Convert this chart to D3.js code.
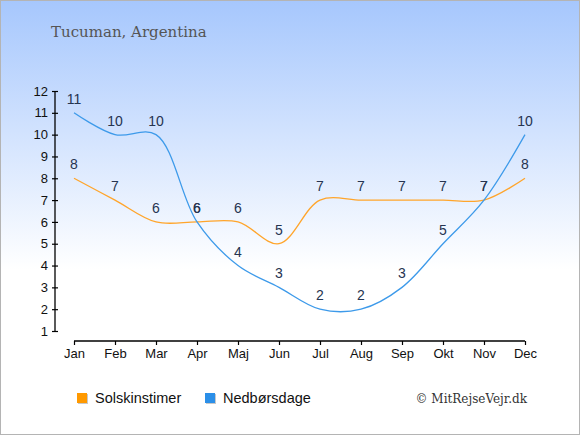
<!DOCTYPE html>
<html>
<head>
<meta charset="utf-8">
<script src="https://cdn.jsdelivr.net/npm/d3@7"></script>
<style>
  html, body { margin: 0; padding: 0; }
  svg { display: block; }
</style>
</head>
<body>
<div id="chart"></div>
<script>
// Tucuman monthly climate: sunshine hours and rain days
const months = ["Jan", "Feb", "Mar", "Apr", "Maj", "Jun", "Jul", "Aug", "Sep", "Okt", "Nov", "Dec"];
const sunHours = [8, 7, 6, 6, 6, 5, 7, 7, 7, 7, 7, 8];
const rainDays = [11, 10, 10, 6, 4, 3, 2, 2, 3, 5, 7, 10];
const yTicks = [1, 2, 3, 4, 5, 6, 7, 8, 9, 10, 11, 12];

const W = 580, H = 435;
const svg = d3.select("#chart").append("svg").attr("width", W).attr("height", H);

// background gradient
const grad = svg.append("defs").append("linearGradient")
  .attr("id", "bg").attr("x1", 0).attr("x2", 0).attr("y1", 0).attr("y2", 1);
grad.append("stop").attr("offset", "0%").attr("stop-color", "#a6c7fd");
grad.append("stop").attr("offset", "62%").attr("stop-color", "#ffffff");
grad.append("stop").attr("offset", "100%").attr("stop-color", "#ffffff");
svg.append("rect").attr("x", 0.5).attr("y", 0.5).attr("width", W - 1).attr("height", H - 1)
  .attr("fill", "url(#bg)").attr("stroke", "#b4b4b4");

svg.append("text").attr("x", 51).attr("y", 37)
  .attr("font-family", "DejaVu Serif, serif").attr("font-size", 15)
  .attr("fill", "#555").text("Tucuman, Argentina");

const x = d3.scalePoint().domain(months).range([74, 525]);
const y = d3.scaleLinear().domain([1, 12]).range([331, 91]);

// y axis
const yAxis = svg.append("g").attr("transform", "translate(55,0)")
  .call(d3.axisLeft(y).tickValues(yTicks).tickSize(3).tickPadding(4));
yAxis.selectAll(".tick line").attr("x2", 3).attr("x1", -3);

// x axis
const xAxis = svg.append("g").attr("transform", "translate(0,341)")
  .call(d3.axisBottom(x).tickSize(4).tickPadding(4).tickSizeOuter(0));

[yAxis, xAxis].forEach(a => {
  a.select(".domain").attr("stroke", "#000").attr("stroke-width", 1.3);
  a.selectAll(".tick line").attr("stroke", "#000").attr("stroke-width", 1.2);
  a.selectAll("text").attr("font-family", "Liberation Sans, Arial, sans-serif")
    .attr("font-size", 13).attr("fill", "#111");
});
xAxis.select(".domain").attr("d", `M${x("Jan")},0H${x("Dec")}`);
yAxis.select(".domain").attr("d", "M0,91V331");

const line = d3.line()
  .x((d, i) => x(months[i]))
  .y(d => y(d))
  .curve(d3.curveCatmullRom.alpha(0.5));

const series = [
  { name: "Solskinstimer", values: sunHours, color: "#ffa52b" },
  { name: "Nedbørsdage", values: rainDays, color: "#3d9aea" }
];

series.forEach(s => {
  svg.append("path").attr("d", line(s.values))
    .attr("fill", "none").attr("stroke", s.color).attr("stroke-width", 1.3);
});

series.forEach(s => {
  svg.append("g").selectAll("text").data(s.values).join("text")
    .attr("x", (d, i) => x(months[i]))
    .attr("y", d => y(d) - 9)
    .attr("text-anchor", "middle")
    .attr("font-family", "Liberation Sans, Arial, sans-serif")
    .attr("font-size", 14).attr("fill", "#263450")
    .text(d => d);
});

// legend
const legX = [77, 205];
series.forEach((s, i) => {
  const g = svg.append("g").attr("transform", `translate(${legX[i]},393)`);
  g.append("rect").attr("x", 1).attr("y", 1).attr("width", 10).attr("height", 10).attr("fill", "#c8c8c8");
  g.append("rect").attr("width", 10).attr("height", 10).attr("fill", s.color === "#ffa52b" ? "#ff9900" : "#2b8fe8");
  g.append("text").attr("x", 18).attr("y", 10)
    .attr("font-family", "Liberation Sans, Arial, sans-serif")
    .attr("font-size", 14.5).attr("fill", "#111").text(s.name);
});

svg.append("text").attr("x", 527).attr("y", 403).attr("text-anchor", "end")
  .attr("font-family", "DejaVu Serif, serif").attr("font-size", 12)
  .attr("fill", "#333").text("© MitRejseVejr.dk");
</script>
</body>
</html>
